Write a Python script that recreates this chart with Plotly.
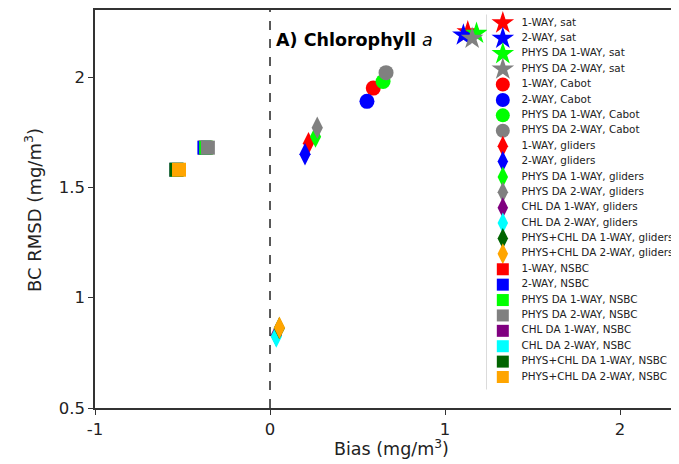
import plotly.graph_objects as go

# ---- data ----
labels = [
    "1-WAY, sat", "2-WAY, sat", "PHYS DA 1-WAY, sat", "PHYS DA 2-WAY, sat",
    "1-WAY, Cabot", "2-WAY, Cabot", "PHYS DA 1-WAY, Cabot", "PHYS DA 2-WAY, Cabot",
    "1-WAY, gliders", "2-WAY, gliders", "PHYS DA 1-WAY, gliders", "PHYS DA 2-WAY, gliders",
    "CHL DA 1-WAY, gliders", "CHL DA 2-WAY, gliders", "PHYS+CHL DA 1-WAY, gliders", "PHYS+CHL DA 2-WAY, gliders",
    "1-WAY, NSBC", "2-WAY, NSBC", "PHYS DA 1-WAY, NSBC", "PHYS DA 2-WAY, NSBC",
    "CHL DA 1-WAY, NSBC", "CHL DA 2-WAY, NSBC", "PHYS+CHL DA 1-WAY, NSBC", "PHYS+CHL DA 2-WAY, NSBC",
]
bias = [
    1.13, 1.105, 1.18, 1.155,
    0.59, 0.554, 0.646, 0.663,
    0.22, 0.20, 0.26, 0.27,
    0.035, 0.036, 0.053, 0.054,
    -0.37, -0.375, -0.365, -0.355,
    -0.535, -0.533, -0.535, -0.52,
]
rmsd = [
    2.205, 2.19, 2.198, 2.175,
    1.95, 1.89, 1.98, 2.02,
    1.70, 1.65, 1.73, 1.77,
    0.83, 0.824, 0.862, 0.864,
    1.68, 1.68, 1.68, 1.68,
    1.58, 1.58, 1.58, 1.58,
]
colors = [
    "red", "blue", "lime", "gray",
    "red", "blue", "lime", "gray",
    "red", "blue", "lime", "gray", "purple", "cyan", "darkgreen", "orange",
    "red", "blue", "lime", "gray", "purple", "cyan", "darkgreen", "orange",
]
symbols = ["star"] * 4 + ["circle"] * 4 + ["diamond-tall"] * 8 + ["square"] * 8
sizes = [17] * 4 + [15] * 4 + [16] * 8 + [14] * 8
leg_sizes = [17] * 4 + [14] * 4 + [15] * 8 + [12] * 8
x_ticks = [-1, 0, 1, 2]
y_ticks = [0.5, 1, 1.5, 2]

FONT = "DejaVu Sans"
AX = "#333333"

fig = go.Figure()
for i in range(len(labels)):
    fig.add_trace(go.Scatter(
        x=[bias[i]], y=[rmsd[i]], mode="markers", name=labels[i],
        marker=dict(symbol=symbols[i], size=sizes[i], color=colors[i], opacity=1, line=dict(width=0)),
        showlegend=False, xaxis="x", yaxis="y",
    ))

# manual legend on an overlay axis (row index positions)
n = len(labels)
rows = [n - 1 - i for i in range(n)]
fig.add_trace(go.Scatter(
    x=[0.083] * n, y=rows, mode="markers",
    marker=dict(symbol=symbols, size=leg_sizes, color=colors, opacity=1, line=dict(width=0)),
    showlegend=False, xaxis="x2", yaxis="y2", hoverinfo="skip", cliponaxis=False,
))
fig.add_trace(go.Scatter(
    x=[0.18] * n, y=rows, mode="text", text=labels, textposition="middle right",
    textfont=dict(family=FONT, size=10.4, color="#222"),
    showlegend=False, xaxis="x2", yaxis="y2", hoverinfo="skip", cliponaxis=False,
))

# page body has an 8px margin: figure spans screen 8..679 x 8..464
fig.update_layout(
    width=671, height=456,
    margin=dict(l=87, r=0, t=2, b=56),
    plot_bgcolor="white", paper_bgcolor="white",
    font=dict(family=FONT, size=16, color="#222"),
    xaxis=dict(
        range=[-1, 2.337], tickvals=x_ticks, ticktext=[str(v) for v in x_ticks],
        showgrid=False, zeroline=False, showline=True, linecolor=AX, linewidth=1.5,
        mirror=True, ticks="outside", ticklen=5, tickcolor=AX, tickwidth=1.2,
        tickfont=dict(size=16.5), automargin=False,
    ),
    yaxis=dict(
        range=[0.5, 2.304], tickvals=y_ticks, ticktext=["0.5", "1", "1.5", "2"],
        showgrid=False, zeroline=False, showline=True, linecolor=AX, linewidth=1.5,
        ticks="outside", ticklen=5, tickcolor=AX, tickwidth=1.2,
        tickfont=dict(size=16.5), automargin=False,
    ),
    xaxis2=dict(domain=[0.671, 1.0], range=[0, 1], visible=False, fixedrange=True, anchor="y2"),
    yaxis2=dict(domain=[0, 1], range=[-2.014, 23.845], visible=False, fixedrange=True, anchor="x2"),
    shapes=[
        dict(type="line", xref="x", yref="paper", x0=0, x1=0, y0=0, y1=1,
             line=dict(color="black", width=1.3, dash="dash")),
        dict(type="rect", xref="paper", yref="paper", x0=0.671, x1=1.05,
             y0=(408 - 389) / 398, y1=(408 - 15) / 398,
             line=dict(color="#c8c8c8", width=1.2), fillcolor="rgba(0,0,0,0)", layer="below"),
    ],
    annotations=[
        dict(x=0.02, y=2.168, xref="x", yref="y", xanchor="left", yanchor="middle",
             text="<b>A) Chlorophyll </b><i>a</i>", showarrow=False,
             font=dict(family=FONT, size=17.5, color="black")),
        dict(x=(391 - 95) / 584, y=(408 - 461) / 398, xref="paper", yref="paper",
             xanchor="center", yanchor="bottom", text="Bias (mg/m<sup>3</sup>)",
             showarrow=False, font=dict(family=FONT, size=17.5, color="#222")),
        dict(x=(33 - 95) / 584, y=(408 - 210) / 398, xref="paper", yref="paper",
             xanchor="center", yanchor="middle", textangle=-90,
             text="BC RMSD (mg/m<sup>3</sup>)",
             showarrow=False, font=dict(family=FONT, size=18, color="#222")),
    ],
)

fig.write_html("out.html")
